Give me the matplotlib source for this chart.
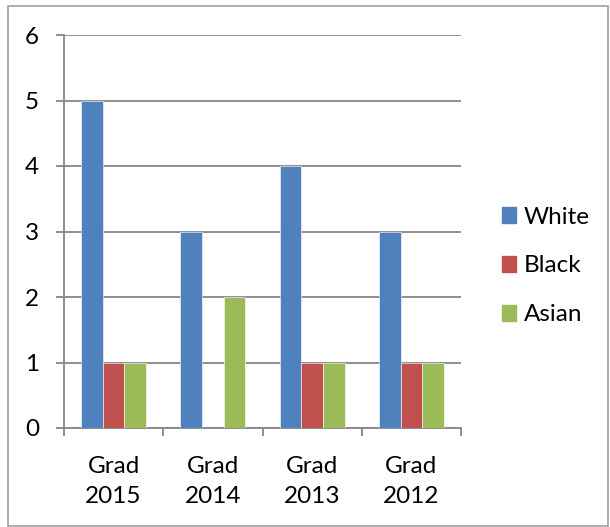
import matplotlib
matplotlib.use("Agg")
import matplotlib.pyplot as plt
import matplotlib.patches as mpatches
import numpy as np

categories = ["Grad\n2015", "Grad\n2014", "Grad\n2013", "Grad\n2012"]
series_names = ["White", "Black", "Asian"]
white = [5, 3, 4, 3]
black = [1, 0, 1, 1]
asian = [1, 2, 1, 1]
colors = ["#4F81BD", "#C0504D", "#9BBB59"]

plt.rcParams['font.family'] = ['Lato', 'DejaVu Sans']
FS = 17.5

fig = plt.figure(figsize=(6.1, 5.27), dpi=100)
ax = fig.add_axes([64/610, 1-428/527, (461-64)/610, (428-35)/527])

x = np.arange(len(categories))
w = 0.218
for i, (vals, c, name) in enumerate(zip([white, black, asian], colors, series_names)):
    ax.bar(x + (i-1)*w, vals, width=w, color=c, label=name, edgecolor='white', linewidth=0.4, zorder=3)

ax.set_xlim(-0.5, len(categories)-0.5)
ax.set_ylim(0, 6)
ax.set_yticks(range(0, 7))
ax.yaxis.grid(True, color='#868686', linewidth=1.3, zorder=0)
ax.set_axisbelow(True)
ax.set_xticks(x)
ax.set_xticklabels(categories, fontsize=FS, linespacing=1.55)
ax.set_xticks(np.arange(-0.5, len(categories)), minor=True)
ax.tick_params(axis='x', which='major', length=0, pad=20)
ax.tick_params(axis='x', which='minor', length=6, width=1.3, color='#868686', direction='out')
ax.tick_params(axis='y', length=6, width=1.3, color='#868686', labelsize=FS, pad=12)
for s in ['top', 'right']:
    ax.spines[s].set_visible(False)
for s in ['left', 'bottom']:
    ax.spines[s].set_color('#868686')
    ax.spines[s].set_linewidth(1.3)

handles = [mpatches.Patch(color=c, label=n) for c, n in zip(colors, series_names)]
fig.legend(handles=handles, loc='center left', bbox_to_anchor=(492/610, 1-266/527),
           frameon=False, fontsize=FS, handlelength=0.6, handleheight=0.6,
           labelspacing=1.15, handletextpad=0.3, borderaxespad=0)

fig.patches.append(mpatches.Rectangle((8/610, 1/527), 600/610, 520/527, transform=fig.transFigure,
                                      fill=False, edgecolor='#a0a0a0', linewidth=1.2))

fig.savefig("out.png", dpi=100)
